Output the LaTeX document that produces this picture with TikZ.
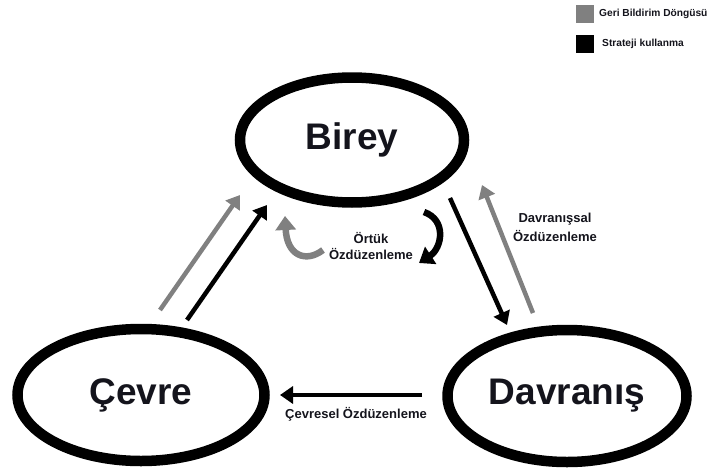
\documentclass[tikz,border=0pt]{standalone}
\usepackage{fontspec}
\setmainfont{Liberation Sans}
\usetikzlibrary{shapes.geometric,arrows.meta}
\definecolor{fbgray}{RGB}{128,128,128}
\definecolor{txt}{RGB}{20,20,28}
\tikzset{
  bigell/.style={ellipse, draw=black, line width=10.5pt, inner sep=0pt, text=txt,
    font=\fontsize{37}{40}\selectfont\bfseries},
  straw/.style={line width=4.5pt, -{Triangle[width=17pt,length=13pt]}},
  curvaw/.style={line width=6.5pt, -{Triangle[width=20pt,length=14pt]}},
  lbl/.style={text=txt, font=\fontsize{13}{16}\selectfont\bfseries, align=center, inner sep=0pt},
  legtxt/.style={text=txt, font=\fontsize{10.2}{12}\selectfont\bfseries, anchor=west, inner sep=0pt},
  legbox/.style={minimum size=18pt, inner sep=0pt, anchor=north west}
}
\begin{document}
\begin{tikzpicture}[x=1pt,y=-1pt]
\useasboundingbox (0,0) rectangle (712,471);
% ellipses
\node[bigell, minimum width=224pt, minimum height=125pt] (birey) at (352,140) {Birey};
\node[bigell, minimum width=247pt, minimum height=132pt] (cevre) at (141,395) {Çevre};
\node[bigell, minimum width=239pt, minimum height=132pt] (davranis) at (567,396) {Davranış};
% endpoints
\coordinate (cgS) at (160,310); \coordinate (cgE) at (240,195);
\coordinate (cbS) at (187,320); \coordinate (cbE) at (267,205);
\coordinate (bdS) at (450,198); \coordinate (bdE) at (507,325);
\coordinate (dbS) at (533,313); \coordinate (dbE) at (482,185);
\coordinate (dcS) at (422,395); \coordinate (dcE) at (280,395);
\coordinate (ggS) at (323,250); \coordinate (ggE) at (285,216);
\coordinate (kbS) at (424,212); \coordinate (kbE) at (419,263);
% straight arrows
\draw[straw, fbgray] (cgS) -- (cgE);
\draw[straw, black] (cbS) -- (cbE);
\draw[straw, black] (bdS) -- (bdE);
\draw[straw, fbgray] (dbS) -- (dbE);
\draw[straw, black] (dcS) -- (dcE);
% curved arrows
\draw[curvaw, fbgray] (ggS) .. controls (306,263) and (287,256) .. (ggE);
\draw[curvaw, black] (kbS) .. controls (447,220) and (442,248) .. (kbE);
% labels
\node[lbl] (ortuk) at (371,246) {Örtük\\Özdüzenleme};
\node[lbl, font=\fontsize{13}{19}\selectfont\bfseries] (davoz) at (555,227) {Davranışsal\\Özdüzenleme};
\node[lbl] (cevoz) at (356,414) {Çevresel Özdüzenleme};
% legend
\node[legbox, fill=fbgray] (lg1) at (576,5) {};
\node[legtxt] (lt1) at (599,14) {Geri Bildirim Döngüsü};
\node[legbox, fill=black] (lg2) at (576,35) {};
\node[legtxt] (lt2) at (602,44) {Strateji kullanma};
\end{tikzpicture}
\end{document}
